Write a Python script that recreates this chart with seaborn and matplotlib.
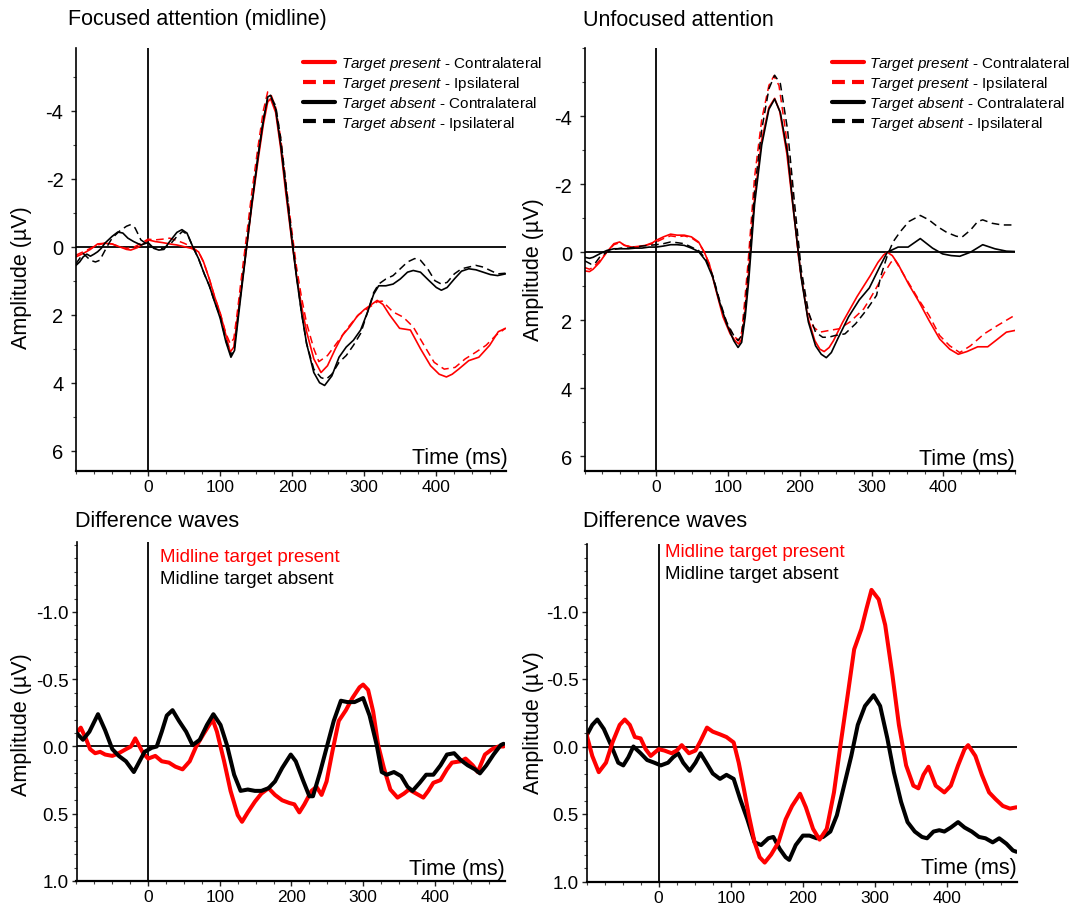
import matplotlib
matplotlib.use("Agg")
import matplotlib.pyplot as plt
from matplotlib.lines import Line2D
from matplotlib.ticker import MultipleLocator, FixedLocator, FormatStrFormatter
import seaborn as sns

# ---------------- data (time in ms, amplitude in µV; negative plotted up) ----------------
# Focused attention (midline)
tl_pc_t = [-100,-90,-80,-70,-60,-50,-40,-30,-24,-15,-5,0,10,20,30,40,50,60,70,77,85,92,100,108,114,119,124,129,136,144,153,160,166,170,177,184,191,199,206,213,220,230,240,249,260,270,280,290,300,310,318,326,335,349,364,378,392,404,414,422,431,445,459,474,486,496]
tl_pc_v = [0.3,0.2,0.08,-0.08,-0.1,-0.08,0.0,0.08,0.1,0.03,-0.1,-0.2,-0.15,-0.12,-0.08,-0.05,0.0,0.05,0.15,0.45,0.95,1.45,1.95,2.6,3.1,2.95,2.1,1.3,0.15,-1.2,-2.6,-3.6,-4.25,-4.35,-3.95,-2.9,-1.6,-0.25,0.85,1.75,2.5,3.3,3.7,3.5,3.0,2.6,2.35,2.05,1.85,1.7,1.58,1.7,2.0,2.4,2.45,3.0,3.5,3.75,3.83,3.75,3.6,3.35,3.25,2.9,2.5,2.4]

tl_pi_t = [-100,-90,-80,-70,-60,-50,-40,-30,-20,-10,0,10,20,30,40,50,60,70,77,85,92,100,108,114,119,124,129,136,144,153,160,166,170,177,184,191,199,206,213,220,230,237,249,263,278,292,306,318,325,340,354,368,383,397,411,426,440,455,469,483,496]
tl_pi_v = [0.25,0.15,0.05,-0.05,-0.1,-0.08,0.0,0.05,0.02,-0.1,-0.22,-0.2,-0.22,-0.25,-0.18,-0.1,0.0,0.15,0.45,0.95,1.45,1.95,2.55,2.85,2.7,1.9,1.0,-0.2,-1.6,-3.0,-4.0,-4.55,-4.5,-4.1,-3.2,-1.9,-0.55,0.6,1.5,2.25,3.0,3.38,3.2,2.8,2.36,2.0,1.8,1.62,1.6,1.92,2.07,2.36,2.9,3.4,3.6,3.55,3.3,3.1,2.9,2.6,2.4]

tl_ac_t = [-100,-95,-90,-85,-80,-75,-70,-65,-60,-50,-42,-35,-28,-20,-10,0,8,15,22,30,40,47,54,62,70,78,85,92,100,108,115,120,124,129,136,144,153,160,166,170,177,184,191,199,206,213,220,230,238,245,255,265,275,285,295,305,313,320,330,340,350,360,368,378,390,400,407,415,425,435,445,455,465,475,485,496]
tl_ac_v = [0.55,0.45,0.3,0.22,0.28,0.22,0.15,0.05,-0.1,-0.3,-0.43,-0.4,-0.25,-0.15,-0.05,-0.12,0.05,0.1,0.08,-0.15,-0.42,-0.5,-0.4,0.0,0.35,0.8,1.15,1.6,2.1,2.8,3.25,3.05,2.3,1.4,0.15,-1.25,-2.7,-3.7,-4.4,-4.45,-4.05,-3.0,-1.75,-0.3,0.9,1.95,2.85,3.7,4.0,4.08,3.8,3.25,2.95,2.75,2.45,1.9,1.4,1.15,1.15,1.1,0.95,0.75,0.7,0.75,1.0,1.2,1.28,1.2,0.95,0.72,0.65,0.68,0.75,0.82,0.85,0.8]

tl_ai_t = [-100,-95,-90,-85,-80,-73,-67,-62,-57,-50,-40,-30,-24,-18,-10,0,10,20,30,40,48,55,62,70,78,85,92,100,108,115,120,124,129,136,144,153,160,166,170,177,184,191,199,206,213,220,230,240,247,255,265,275,285,295,305,313,320,330,340,350,360,370,378,388,398,407,415,425,435,445,455,465,475,485,496]
tl_ai_v = [0.5,0.35,0.2,0.3,0.4,0.45,0.4,0.2,0.0,-0.25,-0.45,-0.6,-0.65,-0.55,-0.2,-0.05,0.05,0.05,-0.05,-0.3,-0.45,-0.35,0.0,0.35,0.8,1.15,1.6,2.05,2.75,3.2,2.95,2.2,1.3,0.1,-1.3,-2.75,-3.75,-4.35,-4.4,-4.15,-3.2,-1.9,-0.4,0.85,1.95,2.85,3.6,3.85,3.9,3.75,3.4,3.2,2.9,2.55,1.9,1.35,1.1,0.95,0.85,0.65,0.45,0.35,0.4,0.65,1.0,1.1,1.05,0.8,0.65,0.6,0.55,0.6,0.7,0.8,0.78]

# Unfocused attention
tr_pc_t = [-100,-93,-88,-79,-69,-59,-51,-44,-34,-25,-15,-5,0,10,20,29,39,49,59,67,74,83,93,103,110,115,119,123,128,137,147,157,165,172,182,191,201,211,221,228,234,241,247,260,280,298,309,317,322,329,337,352,366,380,395,409,421,433,448,462,476,488,500]
tr_pc_v = [0.55,0.57,0.5,0.3,0.0,-0.25,-0.3,-0.2,-0.15,-0.17,-0.2,-0.28,-0.35,-0.45,-0.53,-0.5,-0.5,-0.45,-0.3,0.0,0.35,1.1,1.9,2.4,2.6,2.7,2.55,1.9,0.8,-1.6,-3.3,-4.25,-4.52,-4.15,-2.9,-1.25,0.55,1.9,2.6,2.85,2.92,2.8,2.6,2.05,1.3,0.7,0.3,0.08,0.0,0.1,0.35,0.95,1.45,2.0,2.55,2.85,3.0,2.92,2.78,2.78,2.55,2.35,2.3]

tr_pi_t = [-100,-93,-88,-79,-69,-59,-51,-44,-34,-25,-15,-5,0,10,20,29,39,49,59,67,74,83,93,103,110,115,119,123,128,137,147,157,164,171,180,190,199,209,219,228,241,255,270,289,298,308,318,327,332,346,366,380,395,409,423,438,457,476,500]
tr_pi_v = [0.45,0.5,0.45,0.25,0.0,-0.22,-0.28,-0.2,-0.15,-0.15,-0.2,-0.25,-0.3,-0.4,-0.48,-0.45,-0.48,-0.42,-0.28,0.0,0.35,1.05,1.8,2.3,2.5,2.6,2.35,1.5,0.3,-2.2,-3.9,-4.9,-5.18,-4.9,-3.6,-1.7,0.3,1.6,2.2,2.35,2.3,2.25,2.05,1.67,1.37,1.0,0.6,0.3,0.2,0.7,1.4,1.85,2.45,2.75,2.95,2.75,2.4,2.15,1.85]

tr_ac_t = [-100,-93,-88,-79,-69,-59,-49,-39,-29,-20,-10,0,10,20,29,39,49,59,69,79,88,98,108,114,119,124,129,137,147,157,165,173,183,192,202,212,222,230,237,244,254,268,283,297,311,322,337,351,368,385,399,411,423,438,455,472,488,500]
tr_ac_v = [0.15,0.18,0.15,0.05,-0.05,-0.1,-0.1,-0.1,-0.12,-0.12,-0.15,-0.15,-0.18,-0.22,-0.22,-0.2,-0.12,-0.02,0.25,0.75,1.45,2.1,2.6,2.8,2.65,1.9,0.8,-1.4,-3.15,-4.2,-4.5,-4.1,-2.9,-1.1,0.75,2.05,2.75,3.0,3.1,2.95,2.5,1.9,1.4,1.05,0.45,0.0,-0.15,-0.15,-0.4,-0.12,0.05,0.1,0.12,0.0,-0.22,-0.1,-0.03,-0.02]

tr_ai_t = [-100,-91,-86,-79,-69,-59,-49,-39,-29,-20,-10,0,10,20,29,39,49,59,69,79,88,98,108,114,119,124,129,137,147,157,165,173,183,192,202,212,222,232,240,249,263,278,293,307,313,322,330,340,352,368,380,392,405,418,426,438,448,455,468,482,500]
tr_ai_v = [0.25,0.35,0.35,0.15,0.0,-0.08,-0.12,-0.12,-0.15,-0.18,-0.2,-0.22,-0.25,-0.3,-0.28,-0.25,-0.15,-0.05,0.2,0.7,1.4,2.05,2.45,2.6,2.45,1.6,0.4,-1.8,-3.6,-4.8,-5.2,-4.95,-3.6,-1.6,0.5,1.75,2.35,2.5,2.5,2.45,2.4,2.1,1.7,1.27,0.7,0.1,-0.3,-0.6,-0.9,-1.08,-0.95,-0.75,-0.58,-0.47,-0.44,-0.65,-0.9,-0.95,-0.85,-0.8,-0.8]

# Difference waves (focused)
bl_p_t = [-100,-94,-87,-81,-74,-67,-60,-50,-41,-31,-24,-18,-14,-7,0,10,19,29,38,48,58,67,77,84,90,96,106,115,125,131,139,149,158,168,177,187,197,204,211,218,228,235,242,249,257,266,276,285,295,300,307,314,321,329,338,348,357,364,374,384,391,398,408,417,424,436,443,453,460,470,480,489,496]
bl_p_v = [-0.1,-0.14,-0.06,0.02,0.05,0.04,0.06,0.07,0.05,0.02,0.0,-0.06,-0.02,0.05,0.09,0.07,0.11,0.12,0.15,0.17,0.11,0.0,-0.09,-0.15,-0.2,-0.11,0.11,0.33,0.51,0.56,0.49,0.41,0.35,0.31,0.36,0.40,0.42,0.43,0.49,0.43,0.33,0.30,0.36,0.26,0.04,-0.19,-0.27,-0.36,-0.44,-0.46,-0.42,-0.26,-0.01,0.16,0.32,0.38,0.35,0.32,0.35,0.38,0.33,0.27,0.25,0.17,0.12,0.11,0.09,0.14,0.19,0.06,0.02,0.0,0.0]

bl_a_t = [-100,-91,-82,-70,-60,-50,-41,-31,-20,-12,-5,5,12,19,26,34,43,53,62,72,82,91,101,110,120,129,139,149,158,168,177,187,199,206,216,225,230,240,249,259,269,278,288,300,309,319,326,333,343,353,362,369,379,388,398,408,417,427,436,446,456,463,472,482,492,496]
bl_a_v = [-0.1,-0.05,-0.11,-0.24,-0.12,0.02,0.07,0.11,0.19,0.11,0.04,0.01,0.0,-0.11,-0.23,-0.27,-0.19,-0.11,-0.01,-0.05,-0.16,-0.24,-0.16,-0.01,0.21,0.33,0.32,0.33,0.33,0.31,0.26,0.16,0.06,0.11,0.25,0.37,0.37,0.19,0.01,-0.19,-0.34,-0.33,-0.33,-0.36,-0.23,-0.01,0.19,0.21,0.19,0.22,0.30,0.33,0.27,0.21,0.21,0.14,0.06,0.05,0.10,0.14,0.17,0.20,0.14,0.06,-0.01,-0.02]

# Difference waves (unfocused)
br_p_t = [-100,-92,-83,-73,-64,-54,-47,-40,-33,-25,-18,-11,0,8,18,25,32,42,51,58,67,75,85,94,104,111,118,125,133,140,147,156,166,176,185,196,204,214,223,233,243,252,262,271,281,288,295,305,314,324,333,343,353,360,367,374,384,396,405,415,424,429,439,448,458,467,477,487,496]
br_p_v = [-0.09,0.07,0.19,0.12,-0.03,-0.16,-0.2,-0.16,-0.07,-0.06,0.02,0.07,0.02,0.03,0.05,0.03,-0.01,0.05,0.03,-0.04,-0.14,-0.11,-0.09,-0.07,-0.03,0.12,0.31,0.51,0.71,0.82,0.86,0.80,0.71,0.54,0.44,0.35,0.45,0.61,0.69,0.61,0.34,-0.01,-0.38,-0.72,-0.87,-1.02,-1.16,-1.09,-0.90,-0.53,-0.16,0.14,0.29,0.31,0.21,0.15,0.29,0.34,0.29,0.14,0.02,-0.01,0.07,0.21,0.34,0.39,0.44,0.46,0.45]

br_a_t = [-100,-92,-85,-76,-66,-56,-49,-42,-35,-25,-16,-6,3,13,20,27,34,43,51,58,66,75,85,94,104,113,123,133,142,152,159,168,176,181,190,200,209,219,228,238,247,257,267,276,286,298,307,317,326,336,345,355,365,372,381,389,396,405,415,424,434,444,453,463,472,482,491,496]
br_a_v = [-0.08,-0.16,-0.2,-0.13,-0.01,0.12,0.14,0.08,0.0,0.05,0.10,0.12,0.14,0.12,0.08,0.05,0.12,0.18,0.12,0.05,0.12,0.20,0.24,0.21,0.24,0.39,0.54,0.71,0.73,0.68,0.67,0.76,0.82,0.84,0.73,0.66,0.66,0.68,0.67,0.63,0.51,0.29,0.07,-0.16,-0.30,-0.38,-0.30,-0.06,0.19,0.41,0.56,0.63,0.67,0.68,0.63,0.62,0.63,0.60,0.56,0.60,0.63,0.67,0.68,0.71,0.68,0.72,0.77,0.78]

x_ticks = [0, 100, 200, 300, 400]
top_y_ticks = [-4, -2, 0, 2, 4, 6]
bot_y_ticks = [-1.0, -0.5, 0.0, 0.5, 1.0]
legend_labels = [r"$\mathit{Target\ present}$ - Contralateral",
                 r"$\mathit{Target\ present}$ - Ipsilateral",
                 r"$\mathit{Target\ absent}$ - Contralateral",
                 r"$\mathit{Target\ absent}$ - Ipsilateral"]

series_lists = [(tl_pc_t, tl_pc_v), (tl_pi_t, tl_pi_v), (tl_ac_t, tl_ac_v), (tl_ai_t, tl_ai_v),
                (tr_pc_t, tr_pc_v), (tr_pi_t, tr_pi_v), (tr_ac_t, tr_ac_v), (tr_ai_t, tr_ai_v),
                (bl_p_t, bl_p_v), (bl_a_t, bl_a_v), (br_p_t, br_p_v), (br_a_t, br_a_v)]
for i, (a, b) in enumerate(series_lists):
    assert len(a) == len(b), (i, len(a), len(b))

# ---------------- style ----------------
sns.set_theme(style="ticks")
plt.rcParams["font.family"] = ["Liberation Sans", "DejaVu Sans"]
plt.rcParams["mathtext.fontset"] = "custom"
plt.rcParams["mathtext.rm"] = "Liberation Sans"
plt.rcParams["mathtext.it"] = "Liberation Sans:italic"
plt.rcParams["axes.unicode_minus"] = False
for key in ["text.color", "axes.labelcolor", "xtick.color", "ytick.color",
            "axes.edgecolor", "xtick.labelcolor", "ytick.labelcolor"]:
    plt.rcParams[key] = "black"

W, H = 1078, 904
fig = plt.figure(figsize=(W / 100, H / 100), dpi=100)
fig.patch.set_facecolor("white")


def add_ax(l, t, r, b):
    return fig.add_axes([l / W, 1 - b / H, (r - l) / W, (b - t) / H])


ax_tl = add_ax(76, 49, 505.5, 471.5)
ax_tr = add_ax(584.5, 49, 1015, 472)
ax_bl = add_ax(76.5, 543, 505, 882)
ax_br = add_ax(586.5, 545, 1016.5, 882.5)

RED = "#ff0000"
BLACK = "#000000"
DASH = (0, (5, 3))


def draw(ax, t, v, color, lw, ls="-"):
    sns.lineplot(x=t, y=v, ax=ax, color=color, linewidth=lw, linestyle=ls,
                 estimator=None, sort=False, legend=False,
                 solid_joinstyle="round", dash_joinstyle="round")


def style_axes(ax, xlim, ylim, ymaj, ymin, fmt, ysize, ypad):
    ax.axhline(0, color="black", lw=1.3, zorder=1)
    ax.axvline(0, color="black", lw=1.3, zorder=1)
    ax.set_xlim(*xlim)
    ax.set_ylim(*ylim)
    ax.xaxis.set_major_locator(FixedLocator(x_ticks))
    ax.xaxis.set_minor_locator(MultipleLocator(25))
    ax.yaxis.set_major_locator(FixedLocator(ymaj))
    ax.yaxis.set_minor_locator(MultipleLocator(ymin))
    ax.yaxis.set_major_formatter(FormatStrFormatter(fmt))
    ax.set_xlabel("")
    ax.set_ylabel("")
    sns.despine(ax=ax, top=True, right=True)
    ax.spines["left"].set_linewidth(1.2)
    ax.spines["left"].set_color("black")
    ax.spines["bottom"].set_linewidth(1.6)
    ax.spines["bottom"].set_color("black")
    ax.tick_params(axis="y", which="major", length=3.5, width=1.0, labelsize=ysize,
                   pad=ypad, color="#222222", labelcolor="black")
    ax.tick_params(axis="y", which="minor", length=2.5, width=0.8, color="#444444")
    ax.tick_params(axis="x", which="major", length=3.5, width=1.0, labelsize=12.5,
                   pad=2.5, color="#222222", labelcolor="black")
    ax.tick_params(axis="x", which="minor", length=2.5, width=0.8, color="#444444")
    ax.set_facecolor("white")


# ---------------- top panels ----------------
for ax, data in [(ax_tl, series_lists[0:4]), (ax_tr, series_lists[4:8])]:
    (pc, pi, ac, ai) = data
    draw(ax, pc[0], pc[1], RED, 1.2)
    draw(ax, pi[0], pi[1], RED, 1.1, DASH)
    draw(ax, ac[0], ac[1], BLACK, 1.2)
    draw(ax, ai[0], ai[1], BLACK, 1.1, DASH)

style_axes(ax_tl, (-100, 496), (6.58, -5.84), top_y_ticks, 1, "%d", 14.5, 5.5)
style_axes(ax_tr, (-100, 500), (6.43, -6.0), top_y_ticks, 1, "%d", 14.5, 5.5)

handles = [Line2D([], [], color=RED, lw=3.0),
           Line2D([], [], color=RED, lw=3.0, ls=(0, (3.1, 1.7))),
           Line2D([], [], color=BLACK, lw=3.0),
           Line2D([], [], color=BLACK, lw=3.0, ls=(0, (3.1, 1.7)))]
for ax, xa in [(ax_tl, 0.529), (ax_tr, 0.574)]:
    ax.legend(handles, legend_labels, loc="upper left", bbox_to_anchor=(xa, 0.985),
              frameon=False, fontsize=11, handlelength=2.1, handletextpad=0.35,
              labelspacing=0.12, borderpad=0, borderaxespad=0, labelcolor="black")

# ---------------- bottom panels ----------------
draw(ax_bl, bl_p_t, bl_p_v, RED, 2.9)
draw(ax_bl, bl_a_t, bl_a_v, BLACK, 2.9)
draw(ax_br, br_a_t, br_a_v, BLACK, 2.9)
draw(ax_br, br_p_t, br_p_v, RED, 2.9)
style_axes(ax_bl, (-100, 498), (1.0, -1.52), bot_y_ticks, 0.1, "%.1f", 13.5, 2)
style_axes(ax_br, (-100, 496), (1.0, -1.50), bot_y_ticks, 0.1, "%.1f", 13.5, 2)


def ftext(x, y, s, **kw):
    kw.setdefault("color", "black")
    fig.text(x / W, 1 - y / H, s, **kw)


# titles
ftext(68, 20, "Focused attention (midline)", fontsize=15.5, ha="left", va="center")
ftext(583, 20, "Unfocused attention", fontsize=15.5, ha="left", va="center")
ftext(75, 522, "Difference waves", fontsize=15.5, ha="left", va="center")
ftext(583, 522, "Difference waves", fontsize=15.5, ha="left", va="center")

# y labels
for (x, y) in [(22, 278), (533, 270), (22, 725), (533, 723)]:
    ftext(x, y, "Amplitude (µV)", fontsize=15.5, ha="center", va="center", rotation=90)

# x labels (inside plot, bottom right)
for (x, y) in [(508, 459), (1015, 460), (505, 870), (1017, 869)]:
    ftext(x, y, "Time (ms)", fontsize=15.5, ha="right", va="center")

# difference wave annotations
ftext(160, 557, "Midline target present", fontsize=13.5, color=RED, ha="left", va="center")
ftext(160, 580, "Midline target absent", fontsize=13.5, color=BLACK, ha="left", va="center")
ftext(665, 553, "Midline target present", fontsize=13.5, color=RED, ha="left", va="center")
ftext(665, 575, "Midline target absent", fontsize=13.5, color=BLACK, ha="left", va="center")

fig.savefig("out.png", dpi=100, facecolor="white")
